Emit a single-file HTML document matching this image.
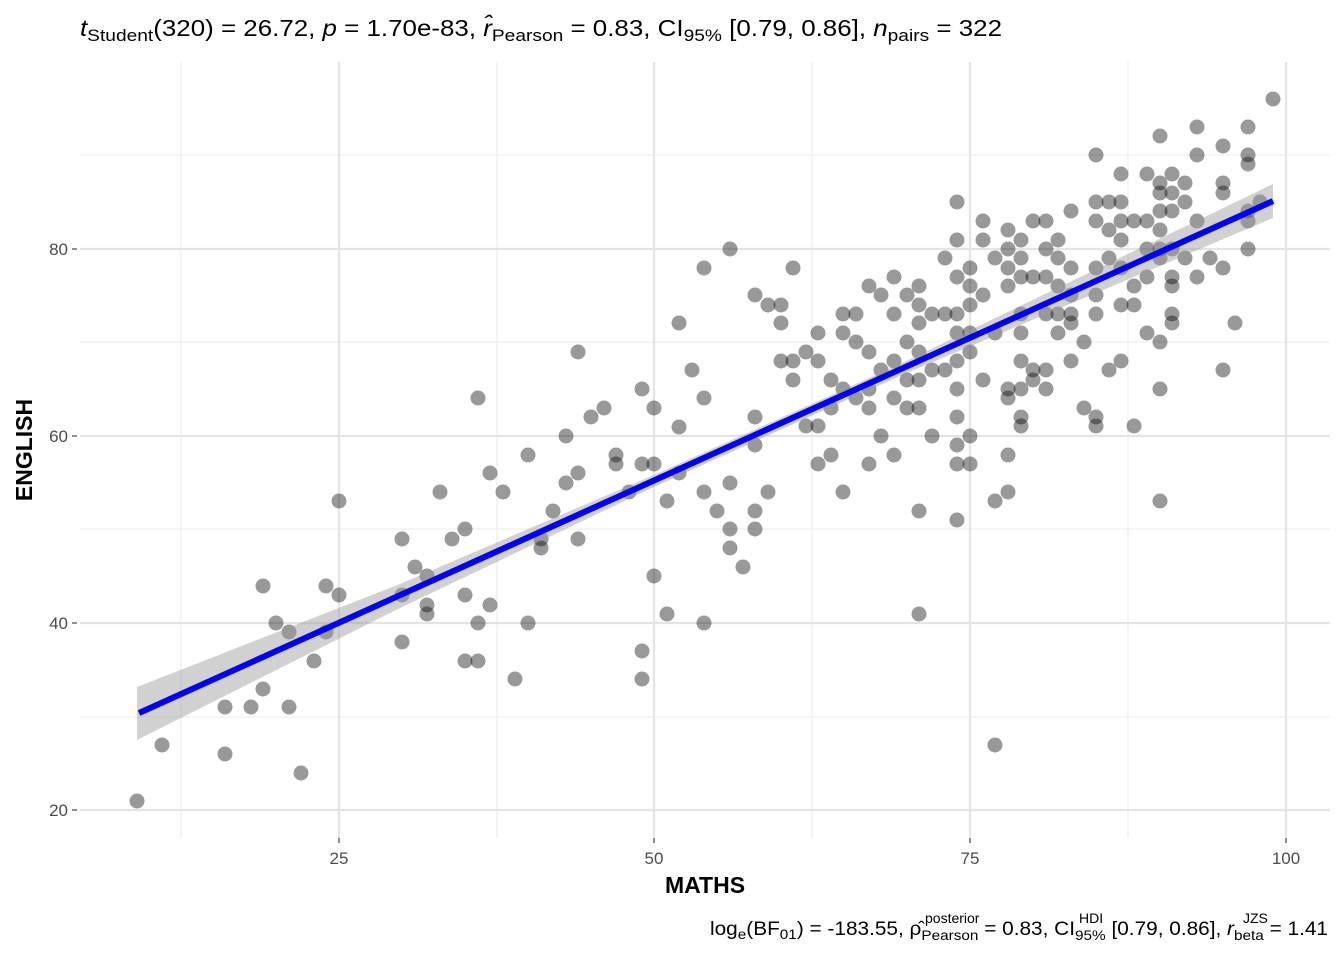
<!DOCTYPE html>
<html><head><meta charset="utf-8"><style>html,body{margin:0;padding:0;background:#fff}</style></head>
<body>
<svg width="1344" height="960" xmlns="http://www.w3.org/2000/svg" font-family="Liberation Sans, Arial, sans-serif">
<rect width="1344" height="960" fill="#fff"/>
<g stroke="#ebebeb" stroke-width="1.1">
<line x1="181" y1="62" x2="181" y2="838"/><line x1="497" y1="62" x2="497" y2="838"/><line x1="812" y1="62" x2="812" y2="838"/><line x1="1128" y1="62" x2="1128" y2="838"/>
<line x1="80" y1="717" x2="1330" y2="717"/><line x1="80" y1="529" x2="1330" y2="529"/><line x1="80" y1="342" x2="1330" y2="342"/><line x1="80" y1="155" x2="1330" y2="155"/>
</g>
<g stroke="#e4e4e4" stroke-width="2.2">
<line x1="339" y1="62" x2="339" y2="838"/><line x1="654" y1="62" x2="654" y2="838"/><line x1="970" y1="62" x2="970" y2="838"/><line x1="1286" y1="62" x2="1286" y2="838"/>
<line x1="80" y1="810" x2="1330" y2="810"/><line x1="80" y1="623" x2="1330" y2="623"/><line x1="80" y1="436" x2="1330" y2="436"/><line x1="80" y1="249" x2="1330" y2="249"/>
</g>
<g fill="#000" fill-opacity="0.4">
<circle cx="137" cy="801" r="7.5"/><circle cx="162" cy="745" r="7.5"/><circle cx="225" cy="707" r="7.5"/><circle cx="225" cy="754" r="7.5"/><circle cx="251" cy="707" r="7.5"/><circle cx="263" cy="586" r="7.5"/><circle cx="263" cy="689" r="7.5"/><circle cx="276" cy="623" r="7.5"/><circle cx="289" cy="632" r="7.5"/><circle cx="289" cy="707" r="7.5"/><circle cx="301" cy="773" r="7.5"/><circle cx="314" cy="661" r="7.5"/><circle cx="326" cy="586" r="7.5"/><circle cx="326" cy="632" r="7.5"/><circle cx="339" cy="501" r="7.5"/><circle cx="339" cy="595" r="7.5"/><circle cx="402" cy="539" r="7.5"/><circle cx="402" cy="595" r="7.5"/><circle cx="402" cy="642" r="7.5"/><circle cx="415" cy="567" r="7.5"/><circle cx="427" cy="576" r="7.5"/><circle cx="427" cy="605" r="7.5"/><circle cx="427" cy="614" r="7.5"/><circle cx="440" cy="492" r="7.5"/><circle cx="452" cy="539" r="7.5"/><circle cx="465" cy="529" r="7.5"/><circle cx="465" cy="595" r="7.5"/><circle cx="465" cy="661" r="7.5"/><circle cx="478" cy="398" r="7.5"/><circle cx="478" cy="623" r="7.5"/><circle cx="478" cy="661" r="7.5"/><circle cx="490" cy="473" r="7.5"/><circle cx="490" cy="605" r="7.5"/><circle cx="503" cy="492" r="7.5"/><circle cx="515" cy="679" r="7.5"/><circle cx="528" cy="455" r="7.5"/><circle cx="528" cy="623" r="7.5"/><circle cx="541" cy="539" r="7.5"/><circle cx="541" cy="548" r="7.5"/><circle cx="553" cy="511" r="7.5"/><circle cx="566" cy="436" r="7.5"/><circle cx="566" cy="483" r="7.5"/><circle cx="578" cy="352" r="7.5"/><circle cx="578" cy="473" r="7.5"/><circle cx="578" cy="539" r="7.5"/><circle cx="591" cy="417" r="7.5"/><circle cx="604" cy="408" r="7.5"/><circle cx="616" cy="455" r="7.5"/><circle cx="616" cy="464" r="7.5"/><circle cx="629" cy="492" r="7.5"/><circle cx="642" cy="389" r="7.5"/><circle cx="642" cy="464" r="7.5"/><circle cx="642" cy="651" r="7.5"/><circle cx="642" cy="679" r="7.5"/><circle cx="654" cy="408" r="7.5"/><circle cx="654" cy="464" r="7.5"/><circle cx="654" cy="576" r="7.5"/><circle cx="667" cy="501" r="7.5"/><circle cx="667" cy="614" r="7.5"/><circle cx="679" cy="323" r="7.5"/><circle cx="679" cy="427" r="7.5"/><circle cx="679" cy="473" r="7.5"/><circle cx="692" cy="370" r="7.5"/><circle cx="704" cy="268" r="7.5"/><circle cx="704" cy="398" r="7.5"/><circle cx="704" cy="492" r="7.5"/><circle cx="704" cy="623" r="7.5"/><circle cx="717" cy="511" r="7.5"/><circle cx="730" cy="249" r="7.5"/><circle cx="730" cy="483" r="7.5"/><circle cx="730" cy="529" r="7.5"/><circle cx="730" cy="548" r="7.5"/><circle cx="743" cy="567" r="7.5"/><circle cx="755" cy="295" r="7.5"/><circle cx="755" cy="417" r="7.5"/><circle cx="755" cy="445" r="7.5"/><circle cx="755" cy="511" r="7.5"/><circle cx="755" cy="529" r="7.5"/><circle cx="768" cy="305" r="7.5"/><circle cx="768" cy="492" r="7.5"/><circle cx="781" cy="305" r="7.5"/><circle cx="781" cy="323" r="7.5"/><circle cx="781" cy="361" r="7.5"/><circle cx="793" cy="268" r="7.5"/><circle cx="793" cy="361" r="7.5"/><circle cx="793" cy="380" r="7.5"/><circle cx="806" cy="352" r="7.5"/><circle cx="806" cy="426" r="7.5"/><circle cx="818" cy="333" r="7.5"/><circle cx="818" cy="361" r="7.5"/><circle cx="818" cy="426" r="7.5"/><circle cx="818" cy="464" r="7.5"/><circle cx="831" cy="380" r="7.5"/><circle cx="831" cy="408" r="7.5"/><circle cx="831" cy="455" r="7.5"/><circle cx="843" cy="314" r="7.5"/><circle cx="843" cy="333" r="7.5"/><circle cx="843" cy="389" r="7.5"/><circle cx="843" cy="492" r="7.5"/><circle cx="856" cy="314" r="7.5"/><circle cx="856" cy="342" r="7.5"/><circle cx="856" cy="398" r="7.5"/><circle cx="869" cy="286" r="7.5"/><circle cx="869" cy="352" r="7.5"/><circle cx="869" cy="389" r="7.5"/><circle cx="869" cy="408" r="7.5"/><circle cx="869" cy="464" r="7.5"/><circle cx="881" cy="295" r="7.5"/><circle cx="881" cy="370" r="7.5"/><circle cx="881" cy="436" r="7.5"/><circle cx="894" cy="277" r="7.5"/><circle cx="894" cy="314" r="7.5"/><circle cx="894" cy="361" r="7.5"/><circle cx="894" cy="398" r="7.5"/><circle cx="894" cy="455" r="7.5"/><circle cx="907" cy="295" r="7.5"/><circle cx="907" cy="342" r="7.5"/><circle cx="907" cy="380" r="7.5"/><circle cx="907" cy="408" r="7.5"/><circle cx="919" cy="286" r="7.5"/><circle cx="919" cy="305" r="7.5"/><circle cx="919" cy="323" r="7.5"/><circle cx="919" cy="352" r="7.5"/><circle cx="919" cy="380" r="7.5"/><circle cx="919" cy="408" r="7.5"/><circle cx="919" cy="511" r="7.5"/><circle cx="919" cy="614" r="7.5"/><circle cx="932" cy="314" r="7.5"/><circle cx="932" cy="370" r="7.5"/><circle cx="932" cy="436" r="7.5"/><circle cx="945" cy="258" r="7.5"/><circle cx="945" cy="314" r="7.5"/><circle cx="945" cy="370" r="7.5"/><circle cx="957" cy="202" r="7.5"/><circle cx="957" cy="240" r="7.5"/><circle cx="957" cy="277" r="7.5"/><circle cx="957" cy="314" r="7.5"/><circle cx="957" cy="333" r="7.5"/><circle cx="957" cy="361" r="7.5"/><circle cx="957" cy="389" r="7.5"/><circle cx="957" cy="417" r="7.5"/><circle cx="957" cy="445" r="7.5"/><circle cx="957" cy="464" r="7.5"/><circle cx="957" cy="520" r="7.5"/><circle cx="970" cy="268" r="7.5"/><circle cx="970" cy="286" r="7.5"/><circle cx="970" cy="305" r="7.5"/><circle cx="970" cy="333" r="7.5"/><circle cx="970" cy="352" r="7.5"/><circle cx="970" cy="436" r="7.5"/><circle cx="970" cy="464" r="7.5"/><circle cx="983" cy="221" r="7.5"/><circle cx="983" cy="240" r="7.5"/><circle cx="983" cy="295" r="7.5"/><circle cx="983" cy="380" r="7.5"/><circle cx="995" cy="258" r="7.5"/><circle cx="995" cy="333" r="7.5"/><circle cx="995" cy="501" r="7.5"/><circle cx="995" cy="745" r="7.5"/><circle cx="1008" cy="230" r="7.5"/><circle cx="1008" cy="249" r="7.5"/><circle cx="1008" cy="268" r="7.5"/><circle cx="1008" cy="286" r="7.5"/><circle cx="1008" cy="389" r="7.5"/><circle cx="1008" cy="398" r="7.5"/><circle cx="1008" cy="455" r="7.5"/><circle cx="1008" cy="492" r="7.5"/><circle cx="1021" cy="240" r="7.5"/><circle cx="1021" cy="258" r="7.5"/><circle cx="1021" cy="277" r="7.5"/><circle cx="1021" cy="314" r="7.5"/><circle cx="1021" cy="333" r="7.5"/><circle cx="1021" cy="361" r="7.5"/><circle cx="1021" cy="389" r="7.5"/><circle cx="1021" cy="417" r="7.5"/><circle cx="1021" cy="426" r="7.5"/><circle cx="1033" cy="221" r="7.5"/><circle cx="1033" cy="277" r="7.5"/><circle cx="1033" cy="380" r="7.5"/><circle cx="1033" cy="370" r="7.5"/><circle cx="1046" cy="221" r="7.5"/><circle cx="1046" cy="249" r="7.5"/><circle cx="1046" cy="277" r="7.5"/><circle cx="1046" cy="314" r="7.5"/><circle cx="1046" cy="370" r="7.5"/><circle cx="1046" cy="389" r="7.5"/><circle cx="1058" cy="240" r="7.5"/><circle cx="1058" cy="258" r="7.5"/><circle cx="1058" cy="286" r="7.5"/><circle cx="1058" cy="314" r="7.5"/><circle cx="1058" cy="333" r="7.5"/><circle cx="1071" cy="211" r="7.5"/><circle cx="1071" cy="268" r="7.5"/><circle cx="1071" cy="295" r="7.5"/><circle cx="1071" cy="314" r="7.5"/><circle cx="1071" cy="323" r="7.5"/><circle cx="1071" cy="361" r="7.5"/><circle cx="1084" cy="342" r="7.5"/><circle cx="1084" cy="408" r="7.5"/><circle cx="1096" cy="295" r="7.5"/><circle cx="1096" cy="417" r="7.5"/><circle cx="1096" cy="426" r="7.5"/><circle cx="1096" cy="155" r="7.5"/><circle cx="1096" cy="202" r="7.5"/><circle cx="1096" cy="221" r="7.5"/><circle cx="1096" cy="268" r="7.5"/><circle cx="1096" cy="314" r="7.5"/><circle cx="1109" cy="202" r="7.5"/><circle cx="1109" cy="230" r="7.5"/><circle cx="1109" cy="258" r="7.5"/><circle cx="1109" cy="370" r="7.5"/><circle cx="1121" cy="174" r="7.5"/><circle cx="1121" cy="202" r="7.5"/><circle cx="1121" cy="221" r="7.5"/><circle cx="1121" cy="240" r="7.5"/><circle cx="1121" cy="268" r="7.5"/><circle cx="1121" cy="305" r="7.5"/><circle cx="1121" cy="361" r="7.5"/><circle cx="1134" cy="221" r="7.5"/><circle cx="1134" cy="286" r="7.5"/><circle cx="1134" cy="305" r="7.5"/><circle cx="1134" cy="426" r="7.5"/><circle cx="1147" cy="174" r="7.5"/><circle cx="1147" cy="221" r="7.5"/><circle cx="1147" cy="249" r="7.5"/><circle cx="1147" cy="277" r="7.5"/><circle cx="1147" cy="333" r="7.5"/><circle cx="1160" cy="136" r="7.5"/><circle cx="1160" cy="183" r="7.5"/><circle cx="1160" cy="193" r="7.5"/><circle cx="1160" cy="211" r="7.5"/><circle cx="1160" cy="230" r="7.5"/><circle cx="1160" cy="249" r="7.5"/><circle cx="1160" cy="258" r="7.5"/><circle cx="1160" cy="342" r="7.5"/><circle cx="1160" cy="389" r="7.5"/><circle cx="1160" cy="501" r="7.5"/><circle cx="1172" cy="174" r="7.5"/><circle cx="1172" cy="193" r="7.5"/><circle cx="1172" cy="211" r="7.5"/><circle cx="1172" cy="249" r="7.5"/><circle cx="1172" cy="277" r="7.5"/><circle cx="1172" cy="286" r="7.5"/><circle cx="1172" cy="314" r="7.5"/><circle cx="1172" cy="323" r="7.5"/><circle cx="1185" cy="183" r="7.5"/><circle cx="1185" cy="202" r="7.5"/><circle cx="1185" cy="258" r="7.5"/><circle cx="1197" cy="127" r="7.5"/><circle cx="1197" cy="155" r="7.5"/><circle cx="1197" cy="221" r="7.5"/><circle cx="1197" cy="277" r="7.5"/><circle cx="1210" cy="258" r="7.5"/><circle cx="1223" cy="146" r="7.5"/><circle cx="1223" cy="183" r="7.5"/><circle cx="1223" cy="193" r="7.5"/><circle cx="1223" cy="268" r="7.5"/><circle cx="1223" cy="370" r="7.5"/><circle cx="1235" cy="323" r="7.5"/><circle cx="1248" cy="127" r="7.5"/><circle cx="1248" cy="155" r="7.5"/><circle cx="1248" cy="164" r="7.5"/><circle cx="1248" cy="211" r="7.5"/><circle cx="1248" cy="221" r="7.5"/><circle cx="1248" cy="249" r="7.5"/><circle cx="1260" cy="202" r="7.5"/><circle cx="1273" cy="99" r="7.5"/>
</g>
<polygon fill="#999" fill-opacity="0.45" points="137,687 400,584 654,475 900,364 1273,184 1273,218 900,376 654,487 400,608 137,740"/>
<line x1="139" y1="713" x2="1273" y2="201" stroke="#0000ff" stroke-width="6"/>
<g font-size="17" fill="#4d4d4d">
<text x="339" y="864" text-anchor="middle">25</text><text x="654" y="864" text-anchor="middle">50</text><text x="970" y="864" text-anchor="middle">75</text><text x="1286" y="864" text-anchor="middle">100</text>
<text x="68" y="816" text-anchor="end">20</text><text x="68" y="629" text-anchor="end">40</text><text x="68" y="442" text-anchor="end">60</text><text x="68" y="255" text-anchor="end">80</text>
</g>
<g stroke="#333" stroke-width="1.1">
<line x1="339" y1="838" x2="339" y2="843"/><line x1="654" y1="838" x2="654" y2="843"/><line x1="970" y1="838" x2="970" y2="843"/><line x1="1286" y1="838" x2="1286" y2="843"/>
<line x1="72" y1="810" x2="77" y2="810"/><line x1="72" y1="623" x2="77" y2="623"/><line x1="72" y1="436" x2="77" y2="436"/><line x1="72" y1="249" x2="77" y2="249"/>
</g>
<text x="705" y="893" font-size="23" font-weight="bold" text-anchor="middle">MATHS</text>
<text transform="translate(32,450) rotate(-90)" font-size="23" font-weight="bold" text-anchor="middle">ENGLISH</text>
<text x="80" y="36" font-size="23" textLength="922" lengthAdjust="spacingAndGlyphs"><tspan font-style="italic">t</tspan><tspan font-size="17" dy="5">Student</tspan><tspan dy="-5">(320) = 26.72, </tspan><tspan font-style="italic">p</tspan><tspan> = 1.70e-83, </tspan><tspan font-style="italic">r̂</tspan><tspan font-size="17" dy="5">Pearson</tspan><tspan dy="-5"> = 0.83, CI</tspan><tspan font-size="17" dy="5">95%</tspan><tspan dy="-5"> [0.79, 0.86], </tspan><tspan font-style="italic">n</tspan><tspan font-size="17" dy="5">pairs</tspan><tspan dy="-5"> = 322</tspan></text>
<text x="710" y="935" font-size="19" textLength="618" lengthAdjust="spacingAndGlyphs">log<tspan font-size="14" dy="4">e</tspan><tspan dy="-4">(BF</tspan><tspan font-size="14" dy="4">01</tspan><tspan dy="-4">) = -183.55, ρ̂</tspan><tspan font-size="14" dy="5">Pearson</tspan><tspan dy="-5"> = 0.83, CI</tspan><tspan font-size="14" dy="5">95%</tspan><tspan dy="-5"> [0.79, 0.86], </tspan><tspan font-style="italic">r</tspan><tspan font-size="14" dy="5">beta</tspan><tspan dy="-5"> = 1.41</tspan></text>
<g font-size="14"><text x="925" y="923">posterior</text><text x="1079" y="923">HDI</text><text x="1243" y="923">JZS</text></g>
</svg>
</body></html>
